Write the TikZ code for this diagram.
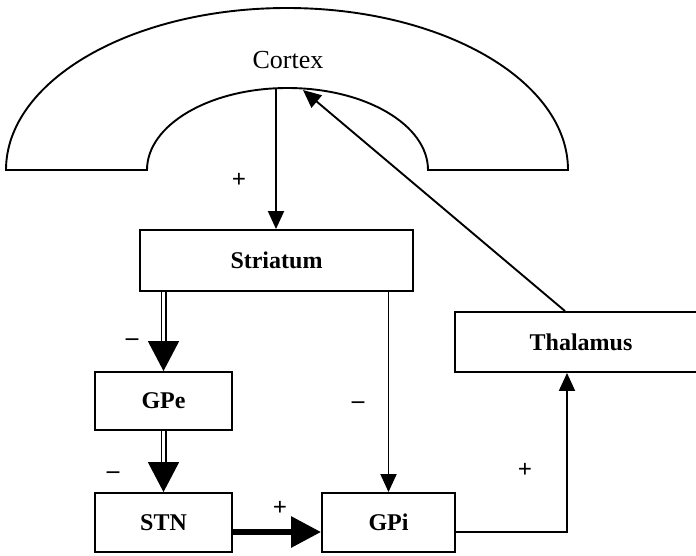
\documentclass[tikz,border=0pt]{standalone}
\usepackage{fontspec}
\setmainfont{Liberation Serif}
\usetikzlibrary{arrows.meta,positioning,calc}

\begin{document}
\begin{tikzpicture}[x=1pt, y=-1pt,
    box/.style={draw, line width=1.9pt, rectangle, inner sep=0pt, font=\fontsize{24}{28}\selectfont\bfseries},
    conn/.style={line width=1.9pt, -{Triangle[length=18pt,width=16pt]}},
    dblconn/.style={line width=1.7pt, double, double distance=2.6pt, -{Triangle[length=30pt,width=31pt]}},
    fatconn/.style={line width=6pt, -{Triangle[length=30pt,width=30pt]}},
    sign/.style={font=\fontsize{25}{28}\selectfont\bfseries}]
  \useasboundingbox (0,0) rectangle (696,555);

  % Cortex (arch)
  \draw[line width=1.9pt] (6,170) arc[start angle=180, end angle=0, x radius=281pt, y radius=162pt]
    -- (428,170) arc[start angle=0, end angle=180, x radius=140.5pt, y radius=82pt] -- cycle;
  \node[font=\fontsize{26}{30}\selectfont] (cortex) at (288,60) {Cortex};
  \coordinate (ctxout) at (276,88);
  \coordinate (ctxin) at (303,90);

  % boxes
  \node[box, minimum width=273pt, minimum height=61pt] (striatum) at (276.5,260.5) {Striatum};
  \node[box, minimum width=137pt, minimum height=58pt] (gpe) at (163.5,401) {GPe};
  \node[box, minimum width=137pt, minimum height=59pt] (stn) at (163.5,522.5) {STN};
  \node[box, minimum width=133pt, minimum height=59pt] (gpi) at (388.5,522.5) {GPi};
  \node[box, minimum width=252pt, minimum height=60pt] (thalamus) at (581,342) {Thalamus};

  % connectors
  \draw[conn] (ctxout) -- (ctxout |- striatum.north);
  \draw[conn] ([xshift=-16pt]thalamus.north) -- (ctxin);
  \draw[conn] (striatum.south -| gpi.north) -- (gpi.north);
  \draw[dblconn] (striatum.south -| gpe.north) -- (gpe.north);
  \draw[dblconn] (gpe.south) -- (stn.north);
  \draw[fatconn] ([yshift=-9.5pt]stn.east) -- ([yshift=-9.5pt]gpi.west);
  \draw[conn] ([yshift=-9.5pt]gpi.east) -| ([xshift=-14pt]thalamus.south);

  % signs
  \node[sign] (s1) at (239,180) {+};
  \node[sign] (s2) at (132,342) {--};
  \node[sign] (s3) at (113,475) {--};
  \node[sign] (s4) at (358,405) {--};
  \node[sign] (s5) at (280,508) {+};
  \node[sign] (s6) at (525,470) {+};
\end{tikzpicture}
\end{document}
